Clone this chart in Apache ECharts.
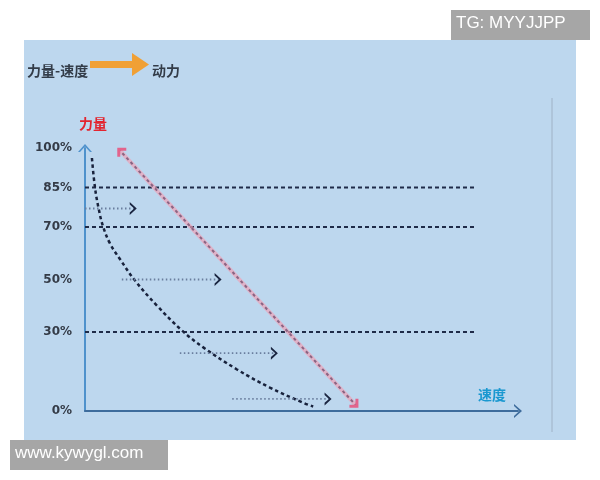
<!DOCTYPE html>
<html>
<head>
<meta charset="utf-8">
<script src="https://cdn.jsdelivr.net/npm/echarts@6/dist/echarts.min.js"></script>
<style>html,body{margin:0;padding:0;background:#fff}#c{width:600px;height:480px}</style>
</head>
<body>
<div id="c"></div>
<script>
// ---- data ----
const yTickValues = [0, 30, 50, 70, 85, 100];
const guideLevels = [85, 70, 30];
const guideEnd = 90;
// force–speed curve (speed, force)
const curveSpeed = [1.6, 2.3, 3.2, 4.2, 5.8, 8.1, 11.5, 16.6, 22.4, 27.3, 35.1, 42.7, 50.3, 52.7];
const curveForce = [96.2, 85, 76.6, 70, 63.6, 57.7, 49.7, 40.1, 30.6, 24.2, 15.8, 8.9, 3.2, 1.7];
// power arrow (red), from / to
const powerStart = [62.8, 1.8];
const powerEnd = [7.8, 99.5];
// dotted speed arrows: level, start, end
const shiftLevel = [77, 50, 22, 4.6];
const shiftStart = [0, 8.5, 21.9, 34];
const shiftEnd = [11.6, 31.2, 44.2, 56.6];

const chevron = 'path://M0,8 L7,0 L14,8 L12,8 L7,2.6 L2,8 Z';
const rightChevron = 'path://M0,0 L7,6.5 L0,13 L0,10.4 L4.4,6.5 L0,2.6 Z';
const cornerTL = 'path://M0,0 L9,0 L9,3 L3,3 L3,9 L0,9 Z';
const cornerBR = 'path://M9,0 L9,9 L0,9 L0,6 L6,6 L6,0 Z';

const chart = echarts.init(document.getElementById('c'));

const series = [];
guideLevels.forEach(function (lv) {
  series.push({
    type: 'line', data: [[0, lv], [guideEnd, lv]], symbol: 'none', silent: true,
    lineStyle: { color: '#1f2b48', width: 2, type: [4, 3] }, z: 3
  });
});
series.push({
  type: 'line', smooth: 0.4, symbol: 'none',
  data: curveSpeed.map(function (s, i) { return [s, curveForce[i]]; }),
  lineStyle: { color: '#18223c', width: 2.5, type: [3.5, 3] }, z: 4
});
// power line: pink halo + dashes
series.push({
  type: 'line', symbol: 'none', data: [powerStart, powerEnd],
  lineStyle: { color: '#eea2b8', width: 4, opacity: 0.7 }, z: 3
});
series.push({
  type: 'line', symbol: 'none', data: [powerStart, powerEnd],
  lineStyle: { color: '#8a6482', width: 2, type: [3, 3] }, z: 4
});
// power arrow heads
series.push({
  type: 'scatter', data: [powerEnd], symbol: cornerTL, symbolSize: [9, 9], symbolOffset: [3, 3],
  itemStyle: { color: '#e2648c', opacity: 1 }, z: 5
});
series.push({
  type: 'scatter', data: [powerStart], symbol: cornerBR, symbolSize: [9, 9], symbolOffset: [-3, -3],
  itemStyle: { color: '#e2648c', opacity: 1 }, z: 5
});
// dotted speed arrows
shiftLevel.forEach(function (lv, i) {
  series.push({
    type: 'line', symbol: 'none', data: [[shiftStart[i], lv], [shiftEnd[i], lv]],
    lineStyle: { color: '#6a7e9e', width: 1.8, type: [1.5, 2.5] }, z: 4
  });
});
series.push({
  type: 'scatter', symbol: rightChevron, symbolSize: [7, 13], symbolOffset: [-2, 0],
  data: shiftLevel.map(function (lv, i) { return [shiftEnd[i], lv]; }),
  itemStyle: { color: '#1a2540', opacity: 1 }, z: 5
});

chart.setOption({
  backgroundColor: '#ffffff',
  animation: false,
  grid: { left: 85, right: 82, top: 148, bottom: 69 },
  xAxis: {
    type: 'value', min: 0, max: 100,
    axisLine: { show: true, lineStyle: { color: '#3e6c9c', width: 2 }, symbol: ['none', chevron], symbolSize: [14, 8] },
    axisTick: { show: false }, axisLabel: { show: false }, splitLine: { show: false }
  },
  yAxis: {
    type: 'value', min: 0, max: 100,
    axisLine: { show: true, onZero: false, lineStyle: { color: '#4f92cc', width: 2 }, symbol: ['none', chevron], symbolSize: [14, 8] },
    axisTick: { show: false }, splitLine: { show: false },
    axisLabel: {
      customValues: yTickValues, margin: 13,
      formatter: function (v) { return v + '%'; },
      color: '#343b47', fontFamily: 'DejaVu Sans', fontWeight: 'bold', fontSize: 12
    }
  },
  graphic: [
    { type: 'rect', z: -100, silent: true, shape: { x: 24, y: 40, width: 552, height: 400 }, style: { fill: '#bdd7ee' } },
    { type: 'line', z: -90, silent: true, shape: { x1: 552, y1: 98, x2: 552, y2: 432 }, style: { stroke: '#9fb2c6', lineWidth: 1 } },
    { type: 'text', left: 27, top: 64, style: { text: '力量-速度', fill: '#333c48', font: 'bold 14px "Noto Sans CJK SC"' } },
    { type: 'rect', shape: { x: 90, y: 61, width: 46, height: 7 }, style: { fill: '#f0a035' } },
    { type: 'polygon', shape: { points: [[132, 53], [149, 64.5], [132, 76]] }, style: { fill: '#f0a035' } },
    { type: 'text', left: 152, top: 64, style: { text: '动力', fill: '#333c48', font: 'bold 14px "Noto Sans CJK SC"' } },
    { type: 'text', left: 79, top: 117, style: { text: '力量', fill: '#e3242f', font: 'bold 14px "Noto Sans CJK SC"' } },
    { type: 'text', left: 478, top: 388, style: { text: '速度', fill: '#1a98d0', font: 'bold 14px "Noto Sans CJK SC"' } },
    { type: 'rect', shape: { x: 451, y: 10, width: 139, height: 30 }, style: { fill: '#a6a6a6' } },
    { type: 'text', left: 456, top: 15, style: { text: 'TG: MYYJJPP', fill: '#ffffff', font: '17px "Liberation Sans"' } },
    { type: 'rect', shape: { x: 10, y: 440, width: 158, height: 30 }, style: { fill: '#a6a6a6' } },
    { type: 'text', left: 15, top: 445, style: { text: 'www.kywygl.com', fill: '#ffffff', font: '17px "Liberation Sans"' } }
  ],
  series: series
});
</script>
</body>
</html>
